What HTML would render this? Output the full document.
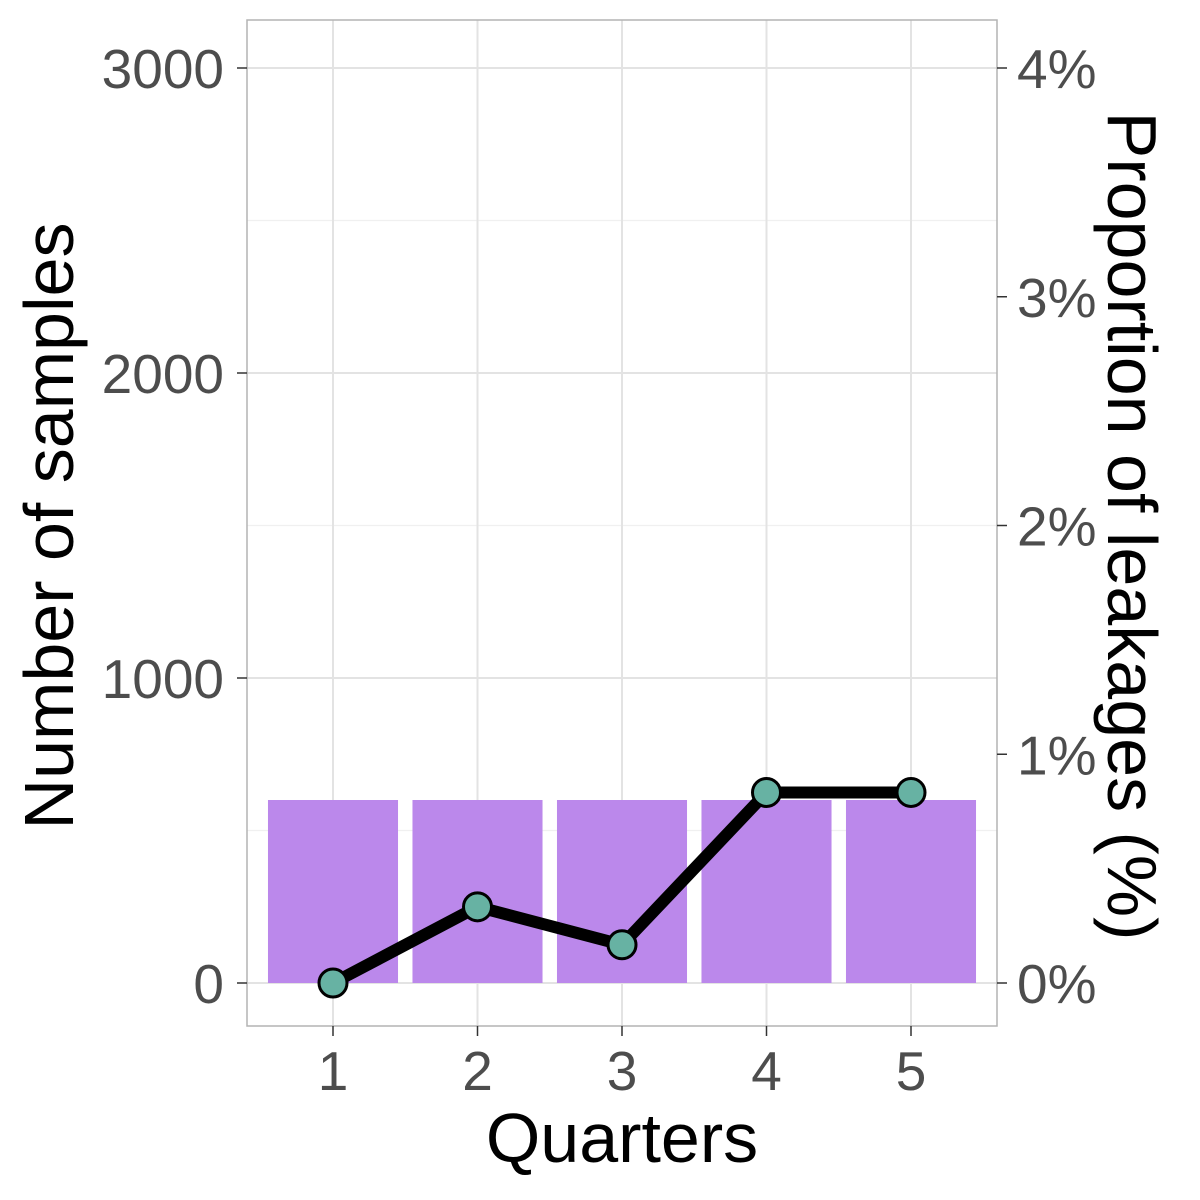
<!DOCTYPE html>
<html><head><meta charset="utf-8"><style>
html,body{margin:0;padding:0;background:#fff;}
svg{display:block;font-family:"Liberation Sans",Arial,sans-serif;}
</style></head><body>
<svg id="chart" width="1200" height="1200" viewBox="0 0 1200 1200">
<g id="grid"></g>
<g id="bars"></g>
<g id="line"></g>
<rect x="247" y="20" width="750" height="1006" fill="none" stroke="#b3b3b3" stroke-width="1.5"/>
<g id="axes"></g>
<text x="622" y="1162" font-size="70" text-anchor="middle" fill="#000">Quarters</text>
<text transform="translate(73,526) rotate(-90)" font-size="70" text-anchor="middle" fill="#000">Number of samples</text>
<text transform="translate(1108,526) rotate(90)" font-size="70" text-anchor="middle" fill="#000">Proportion of leakages (%)</text>
</svg>
<script>
const categories = [1, 2, 3, 4, 5];
const sampleCounts = [600, 600, 600, 600, 600];
const leakagePct = [0, 0.333, 0.167, 0.833, 0.833];
const leftTicks = [0, 1000, 2000, 3000];
const minorTicks = [500, 1500, 2500];
const rightTicks = [0, 1, 2, 3, 4];

const NS = "http://www.w3.org/2000/svg";
function x(v){ return 333 + (v - 1) * 144.5; }
function y(v){ return 983 - v * 0.305; }
function y2(p){ return y(p * 750); }
function mk(tag, attrs, parent){
  const e = document.createElementNS(NS, tag);
  for (const k in attrs) e.setAttribute(k, attrs[k]);
  parent.appendChild(e); return e;
}
const grid = document.getElementById('grid');
const bars = document.getElementById('bars');
const line = document.getElementById('line');
const axes = document.getElementById('axes');

minorTicks.forEach(t => {
  const l = mk('line', {x1:247, x2:997, y1:y(t), y2:y(t), stroke:'#f0f0f0', 'stroke-width':1.2}, grid);
  
  
});
leftTicks.forEach(t => {
  const l = mk('line', {x1:247, x2:997, y1:y(t), y2:y(t), stroke:'#e3e3e3', 'stroke-width':2}, grid);
  
  
  const tk = mk('line', {x1:237, x2:247, y1:y(t), y2:y(t), stroke:'#333', 'stroke-width':1.5}, axes);
  
  
  const tx = mk('text', {x:224, y:y(t)+20, 'font-size':55, 'text-anchor':'end', fill:'#4d4d4d'}, axes);
  tx.textContent = t;
  
  
});
rightTicks.forEach(t => {
  const tk = mk('line', {x1:997, x2:1007, y1:y2(t), y2:y2(t), stroke:'#333', 'stroke-width':1.5}, axes);
  
  
  const tx = mk('text', {x:1017, y:y2(t)+20, 'font-size':55, 'text-anchor':'start', fill:'#4d4d4d'}, axes);
  tx.textContent = t + '%';
  
  
});
categories.forEach(c => {
  const l = mk('line', {x1:x(c), x2:x(c), y1:20, y2:1026, stroke:'#e3e3e3', 'stroke-width':2}, grid);
  
  
  const tk = mk('line', {x1:x(c), x2:x(c), y1:1026, y2:1036, stroke:'#333', 'stroke-width':1.5}, axes);
  
  
  const tx = mk('text', {x:x(c), y:1090, 'font-size':55, 'text-anchor':'middle', fill:'#4d4d4d'}, axes);
  tx.textContent = c;
  
  
});
const bw = 0.9 * 144.5;
categories.forEach((c, i) => {
  const r = mk('rect', {x:x(c)-bw/2, y:y(sampleCounts[i]), width:bw, height:y(0)-y(sampleCounts[i]), fill:'#bb88eb'}, bars);
  
  
});
const pts = categories.map((c, i) => x(c) + ',' + y2(leakagePct[i])).join(' ');
const pl = mk('polyline', {points:pts, fill:'none', stroke:'#000', 'stroke-width':12, 'stroke-linejoin':'round'}, line);


categories.forEach((c, i) => {
  const p = mk('circle', {cx:x(c), cy:y2(leakagePct[i]), r:14, fill:'#67b2a3', stroke:'#000', 'stroke-width':3}, line);
  
  
});
</script>
</body></html>
